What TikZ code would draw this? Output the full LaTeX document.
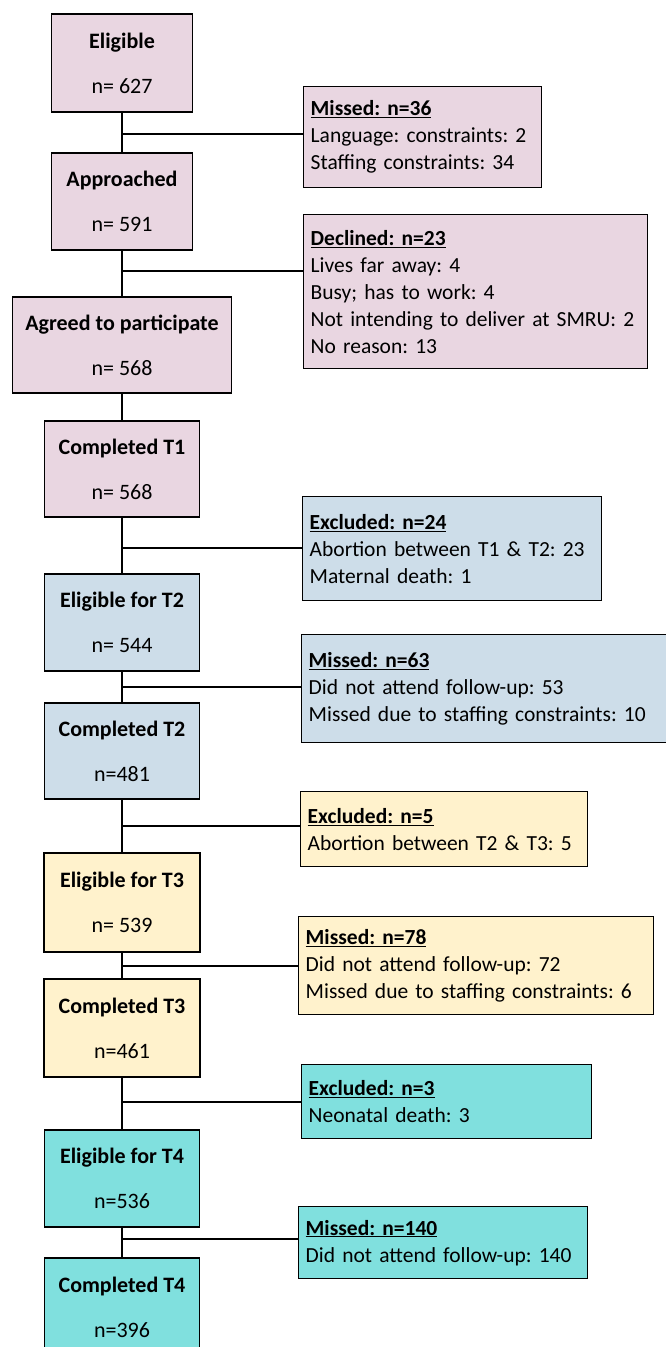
\documentclass[tikz,border=0pt]{standalone}
\usepackage{fontspec}
\setmainfont{Carlito}
\usetikzlibrary{positioning}
\frenchspacing

\definecolor{rosa}{RGB}{233,214,225}
\definecolor{hellblau}{RGB}{205,221,233}
\definecolor{gelb}{RGB}{255,242,204}
\definecolor{tuerkis}{RGB}{128,224,222}

\tikzset{
  hauptbox/.style={draw, line width=1.4pt, align=center, inner sep=0pt,
    font=\fontsize{22}{27}\selectfont},
  nebenbox/.style={draw, line width=1.4pt, align=left, anchor=north west, inner xsep=7pt, inner ysep=8pt,
    font=\fontsize{21.5}{27}\selectfont\frenchspacing},
  linie/.style={line width=1.4pt},
}

\begin{document}
\begin{tikzpicture}[x=1pt, y=-1pt]
			\clip (0,0) rectangle (666,1347);
			
			% Hauptboxen
			\node[hauptbox, fill=rosa, minimum width=141, minimum height=98] (elig) at (122,63) {\textbf{Eligible}\\[18pt]n= 627};
			\node[hauptbox, fill=rosa, minimum width=141, minimum height=97] (appr) at (122,201.5) {\textbf{Approached}\\[18pt]n= 591};
			\node[hauptbox, fill=rosa, minimum width=219, minimum height=96] (agreed) at (122,345) {\textbf{Agreed to participate}\\[18pt]n= 568};
			\node[hauptbox, fill=rosa, minimum width=155, minimum height=96] (compA) at (122,469) {\textbf{Completed T1}\\[18pt]n= 568};
			\node[hauptbox, fill=hellblau, minimum width=155, minimum height=97] (eligB) at (122,622.5) {\textbf{Eligible for T2}\\[18pt]n= 544};
			\node[hauptbox, fill=hellblau, minimum width=155, minimum height=96] (compB) at (122,751) {\textbf{Completed T2}\\[18pt]n=481};
			\node[hauptbox, fill=gelb, minimum width=156, minimum height=99] (eligC) at (122,902.5) {\textbf{Eligible for T3}\\[18pt]n= 539};
			\node[hauptbox, fill=gelb, minimum width=156, minimum height=98] (compC) at (122,1028) {\textbf{Completed T3}\\[18pt]n=461};
			\node[hauptbox, fill=tuerkis, minimum width=155, minimum height=97] (eligD) at (122,1178.5) {\textbf{Eligible for T4}\\[18pt]n=536};
			\node[hauptbox, fill=tuerkis, minimum width=155, minimum height=98] (compD) at (122,1307) {\textbf{Completed T4}\\[18pt]n=396};
			
			% Nebenboxen
			\node[nebenbox, fill=rosa, text width=224, minimum height=101] (miss1) at (303,86) {\underline{\textbf{Missed: n=36}}\\Language: constraints: 2\\Staffing constraints: 34};
			\node[nebenbox, fill=rosa, text width=330, minimum height=154] (decl) at (303,214) {\underline{\textbf{Declined: n=23}}\\Lives far away: 4\\Busy; has to work: 4\\Not intending to deliver at SMRU: 2\\No reason: 13};
			\node[nebenbox, fill=hellblau, text width=285, minimum height=104] (excl1) at (302,496) {\underline{\textbf{Excluded: n=24}}\\Abortion between T1 \& T2: 23\\Maternal death: 1};
			\node[nebenbox, fill=hellblau, text width=386, minimum height=108] (miss2) at (301,634) {\underline{\textbf{Missed: n=63}}\\Did not attend follow-up: 53\\Missed due to staffing constraints: 10};
			\node[nebenbox, fill=gelb, text width=273, minimum height=75] (excl2) at (300,791) {\underline{\textbf{Excluded: n=5}}\\Abortion between T2 \& T3: 5};
			\node[nebenbox, fill=gelb, text width=341, minimum height=98] (miss3) at (298,916) {\underline{\textbf{Missed: n=78}}\\Did not attend follow-up: 72\\Missed due to staffing constraints: 6};
			\node[nebenbox, fill=tuerkis, text width=276, minimum height=74] (excl3) at (301,1064) {\underline{\textbf{Excluded: n=3}}\\Neonatal death: 3};
			\node[nebenbox, fill=tuerkis, text width=275, minimum height=72] (miss4) at (298,1206) {\underline{\textbf{Missed: n=140}}\\Did not attend follow-up: 140};
			
			% Verbindungen
			\draw[linie] (elig) -- (appr);
			\draw[linie] (appr) -- (agreed);
			\draw[linie] (agreed) -- (compA);
			\draw[linie] (compA) -- (eligB);
			\draw[linie] (eligB) -- (compB);
			\draw[linie] (compB) -- (eligC);
			\draw[linie] (eligC) -- (compC);
			\draw[linie] (compC) -- (eligD);
			\draw[linie] (eligD) -- (compD);
			
			% Abzweigungen
			\coordinate (k1) at (122,134);
			\coordinate (k2) at (122,271);
			\coordinate (k3) at (122,548);
			\coordinate (k4) at (122,687);
			\coordinate (k5) at (122,826);
			\coordinate (k6) at (122,966);
			\coordinate (k7) at (122,1102);
			\coordinate (k8) at (122,1239);
			\draw[linie] (k1) -- (k1 -| miss1.west);
			\draw[linie] (k2) -- (k2 -| decl.west);
			\draw[linie] (k3) -- (k3 -| excl1.west);
			\draw[linie] (k4) -- (k4 -| miss2.west);
			\draw[linie] (k5) -- (k5 -| excl2.west);
			\draw[linie] (k6) -- (k6 -| miss3.west);
			\draw[linie] (k7) -- (k7 -| excl3.west);
			\draw[linie] (k8) -- (k8 -| miss4.west);
		\end{tikzpicture}
\end{document}
